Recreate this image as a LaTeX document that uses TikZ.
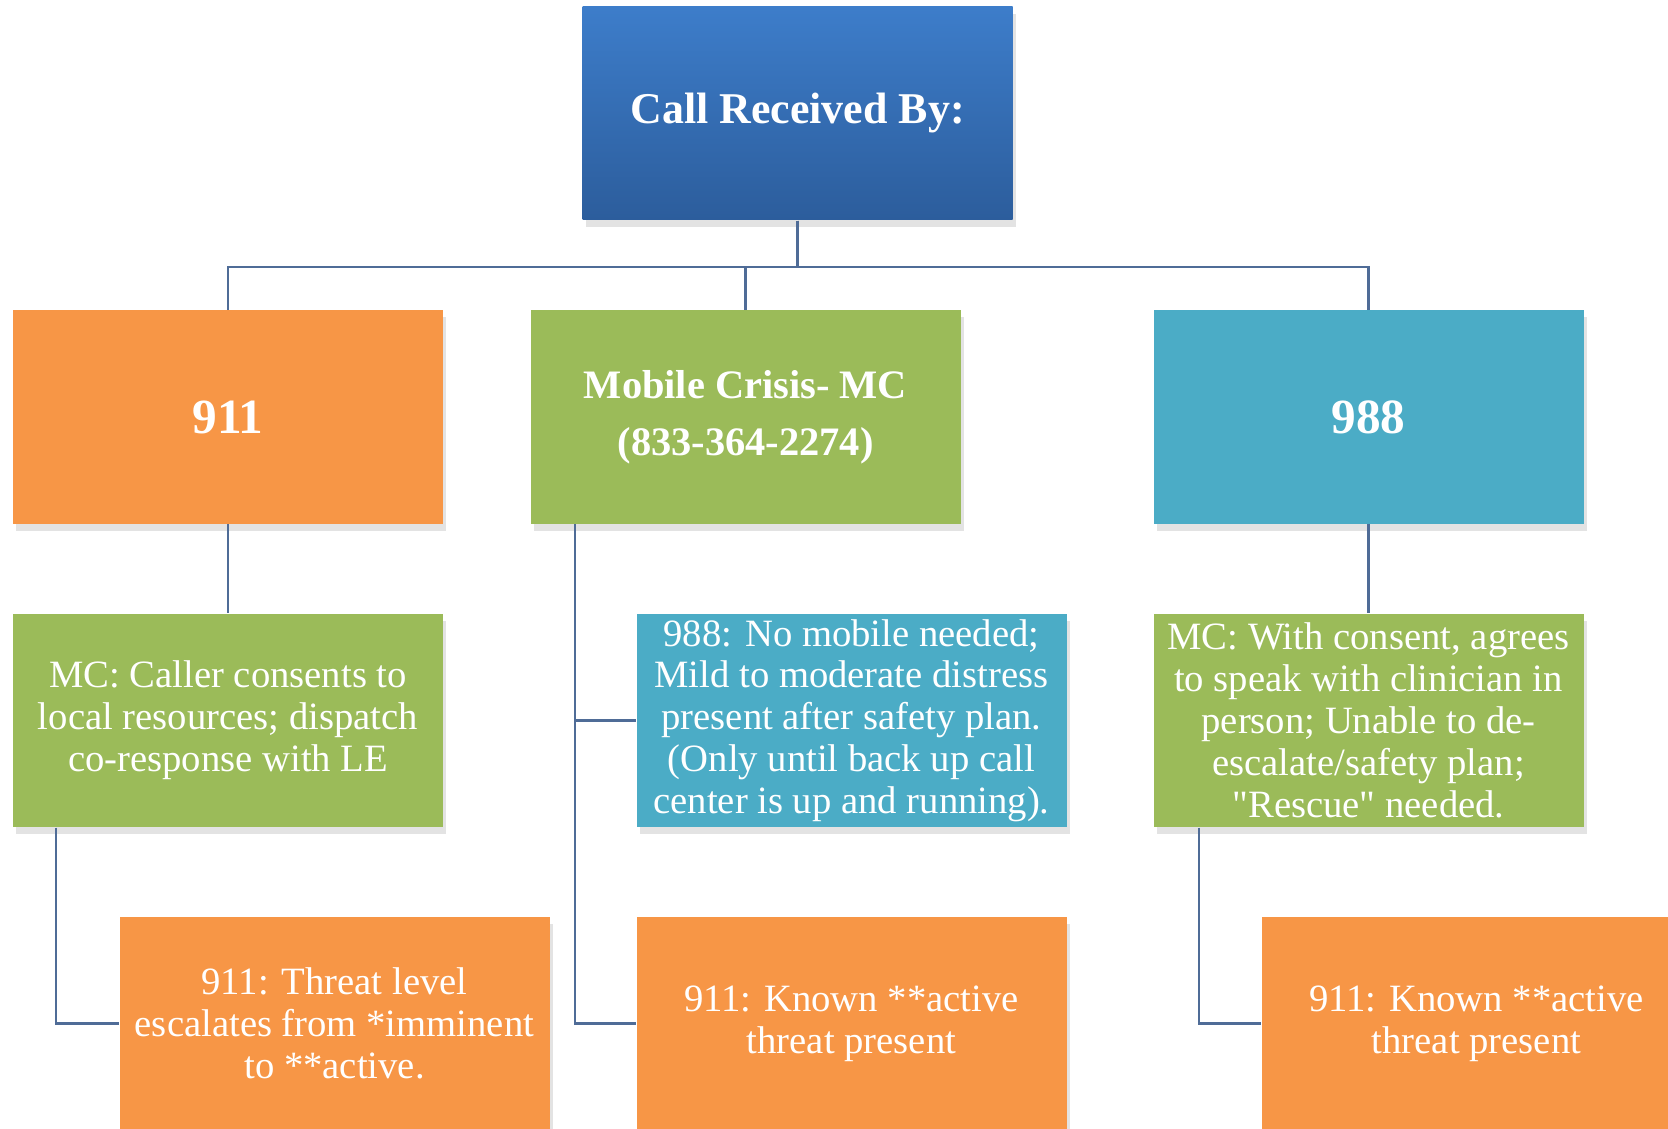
\documentclass[tikz,border=0pt]{standalone}
\usepackage{fontspec}
\setmainfont{Liberation Serif}[Ligatures=TeXOff]
\usetikzlibrary{positioning}
\usetikzlibrary{shadows}

\definecolor{naranja}{HTML}{F79646}
\definecolor{verde}{HTML}{9BBB59}
\definecolor{celeste}{HTML}{4BACC6}
\definecolor{azularriba}{HTML}{3D7DCA}
\definecolor{azulabajo}{HTML}{2C5D9C}
\definecolor{linea}{HTML}{4F6C97}

\begin{document}
\begin{tikzpicture}[every node/.style={rectangle, minimum width=4.3cm, minimum height=2.13cm, inner sep=1pt, align=center, text=white, font=\fontsize{11}{11.9}\selectfont, drop shadow={opacity=0.22, shadow xshift=0.3mm, shadow yshift=-0.7mm}},
  link/.style={draw=linea, line width=0.6pt}]
            \useasboundingbox (0,0) rectangle (16.68,-11.29);
            % Nodos
            \node[top color=azularriba, bottom color=azulabajo, font=\fontsize{12.5}{15}\selectfont\bfseries] (call) at (7.975,-1.135) {Call Received By:};
            \node[fill=naranja, font=\fontsize{14}{16}\selectfont\bfseries] (n911) at (2.28,-4.17) {911};
            \node[fill=verde, font=\fontsize{11.5}{16.3}\selectfont\bfseries] (mc) at (7.455,-4.17) {Mobile Crisis- MC\\(833-364-2274)};
            \node[fill=celeste, font=\fontsize{14}{16}\selectfont\bfseries] (n988) at (13.685,-4.17) {988};
            \node[fill=verde] (consent) at (2.28,-7.205) {MC: Caller consents to\\local resources; dispatch\\co-response with LE};
            \node[fill=celeste] (nomobile) at (8.515,-7.205) {988: No mobile needed;\\Mild to moderate distress\\present after safety plan.\\(Only until back up call\\center is up and running).};
            \node[fill=verde] (rescue) at (13.685,-7.205) {MC: With consent, agrees\\to speak with clinician in\\person; Unable to de-\\escalate/safety plan;\\"Rescue" needed.};
            \node[fill=naranja] (threat) at (3.345,-10.235) {911: Threat level\\escalates from *imminent\\to **active.};
            \node[fill=naranja] (active) at (8.515,-10.235) {911: Known **active\\threat present};
            \node[fill=naranja] (activeb) at (14.765,-10.235) {911: Known **active\\threat present};

            % Aristas
            \draw[link] (call.south) -- ++(0,-0.46) -| (n911.north);
            \draw[link] (call.south) -- ++(0,-0.46) -| (mc.north);
            \draw[link] (call.south) -- ++(0,-0.46) -| (n988.north);
            \draw[link] (n911) -- (consent);
            \draw[link] (n988) -- (rescue);
            \draw[link] ([xshift=0.45cm]mc.south west) |- (nomobile.west);
            \draw[link] ([xshift=0.45cm]mc.south west) |- (active.west);
            \draw[link] ([xshift=0.44cm]consent.south west) |- (threat.west);
            \draw[link] ([xshift=0.46cm]rescue.south west) |- (activeb.west);
          \end{tikzpicture}
\end{document}
